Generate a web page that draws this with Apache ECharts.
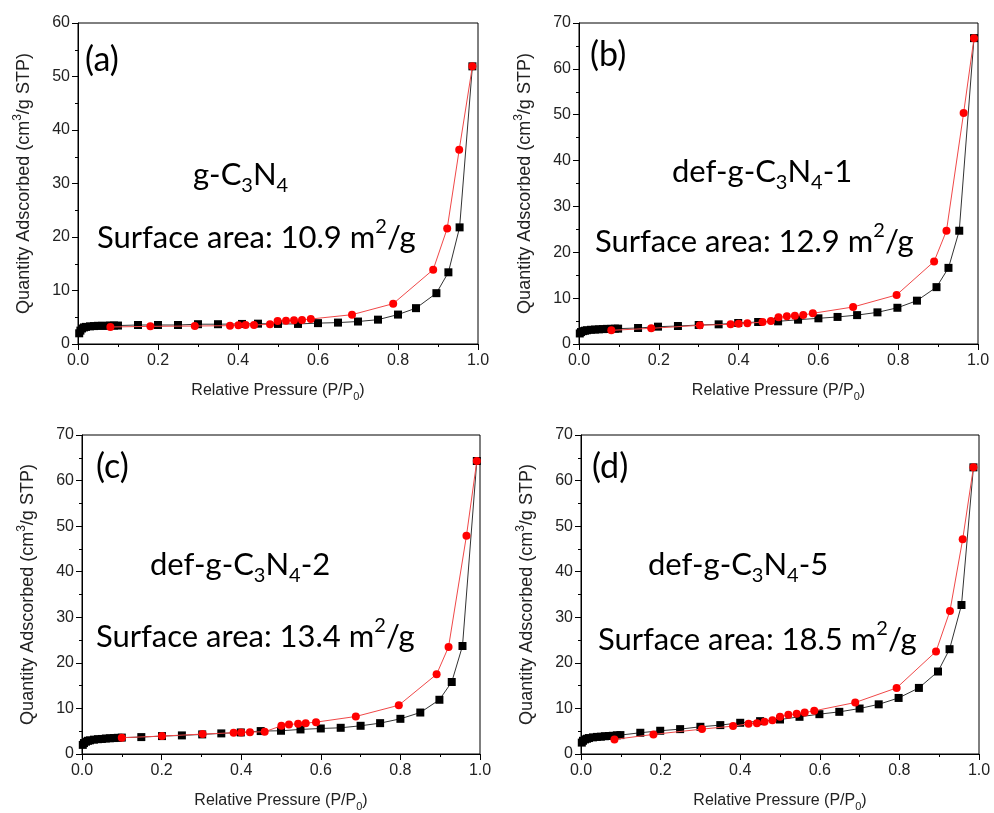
<!DOCTYPE html>
<html><head><meta charset="utf-8">
<script src="https://cdn.jsdelivr.net/npm/echarts@6/dist/echarts.min.js"></script>
<style>html,body{margin:0;padding:0;background:#fff}#c{width:994px;height:813px}</style>
</head><body><div id="c"></div>
<script>
// Panel (a) g-C3N4
const adsX_a = [0.003, 0.006, 0.01, 0.015, 0.02, 0.03, 0.04, 0.05, 0.06, 0.07, 0.08, 0.09, 0.1, 0.15, 0.2, 0.25, 0.3, 0.35, 0.41, 0.45, 0.5, 0.55, 0.6, 0.65, 0.7, 0.75, 0.8, 0.845, 0.896, 0.926, 0.954, 0.986];
const adsY_a = [2.0, 2.5, 2.9, 3.1, 3.2, 3.3, 3.35, 3.4, 3.4, 3.4, 3.45, 3.45, 3.45, 3.55, 3.55, 3.55, 3.7, 3.7, 3.75, 3.8, 3.75, 3.75, 3.9, 4.0, 4.2, 4.55, 5.5, 6.7, 9.5, 13.4, 21.8, 51.9];
const desX_a = [0.081, 0.181, 0.292, 0.38, 0.401, 0.419, 0.44, 0.48, 0.499, 0.52, 0.54, 0.56, 0.582, 0.685, 0.788, 0.888, 0.923, 0.953, 0.986];
const desY_a = [3.18, 3.3, 3.36, 3.43, 3.5, 3.55, 3.55, 3.68, 4.3, 4.36, 4.42, 4.5, 4.67, 5.48, 7.54, 13.9, 21.6, 36.3, 51.9];
// Panel (b) def-g-C3N4-1
const adsX_b = [0.002, 0.005, 0.01, 0.015, 0.02, 0.03, 0.04, 0.05, 0.06, 0.07, 0.08, 0.09, 0.098, 0.148, 0.198, 0.248, 0.3, 0.35, 0.399, 0.449, 0.499, 0.549, 0.6, 0.648, 0.697, 0.748, 0.798, 0.847, 0.896, 0.926, 0.953, 0.99];
const adsY_b = [2.3, 2.6, 2.8, 2.9, 3.0, 3.1, 3.15, 3.2, 3.25, 3.3, 3.3, 3.35, 3.35, 3.49, 3.78, 3.92, 4.14, 4.29, 4.58, 4.8, 4.94, 5.3, 5.6, 5.9, 6.3, 6.9, 7.9, 9.45, 12.4, 16.6, 24.7, 66.7];
const desX_b = [0.081, 0.181, 0.303, 0.38, 0.4, 0.422, 0.46, 0.481, 0.5, 0.521, 0.541, 0.562, 0.586, 0.687, 0.796, 0.89, 0.921, 0.964, 0.99];
const desY_b = [2.98, 3.42, 4.07, 4.29, 4.43, 4.5, 4.8, 5.0, 5.81, 6.03, 6.18, 6.32, 6.69, 8.07, 10.7, 18.0, 24.7, 50.4, 66.7];
// Panel (c) def-g-C3N4-2
const adsX_c = [0.002, 0.005, 0.01, 0.015, 0.02, 0.03, 0.04, 0.05, 0.06, 0.07, 0.08, 0.09, 0.1, 0.149, 0.201, 0.251, 0.302, 0.35, 0.399, 0.449, 0.5, 0.549, 0.6, 0.65, 0.7, 0.749, 0.8, 0.85, 0.898, 0.929, 0.956, 0.992];
const adsY_c = [2.0, 2.4, 2.7, 2.9, 3.0, 3.15, 3.25, 3.3, 3.4, 3.45, 3.5, 3.55, 3.6, 3.71, 3.93, 4.08, 4.3, 4.52, 4.73, 5.03, 5.1, 5.39, 5.6, 5.75, 6.19, 6.77, 7.72, 9.1, 11.9, 15.8, 23.7, 64.3];
const desX_c = [0.1, 0.201, 0.303, 0.381, 0.4, 0.422, 0.459, 0.501, 0.52, 0.543, 0.562, 0.588, 0.688, 0.796, 0.891, 0.921, 0.966, 0.992];
const desY_c = [3.57, 3.93, 4.37, 4.66, 4.73, 4.8, 4.88, 6.19, 6.48, 6.63, 6.77, 6.99, 8.23, 10.7, 17.5, 23.5, 47.9, 64.3];
// Panel (d) def-g-C3N4-5
const adsX_d = [0.002, 0.005, 0.01, 0.015, 0.02, 0.03, 0.04, 0.05, 0.06, 0.07, 0.08, 0.09, 0.099, 0.149, 0.199, 0.249, 0.3, 0.35, 0.4, 0.45, 0.5, 0.549, 0.599, 0.649, 0.7, 0.748, 0.798, 0.849, 0.897, 0.926, 0.956, 0.986];
const adsY_d = [2.5, 2.9, 3.2, 3.35, 3.5, 3.65, 3.75, 3.8, 3.9, 3.95, 4.0, 4.1, 4.15, 4.66, 5.1, 5.46, 5.97, 6.34, 6.85, 7.21, 7.57, 8.16, 8.74, 9.25, 9.98, 10.9, 12.3, 14.5, 18.1, 23.0, 32.7, 62.9];
const desX_d = [0.084, 0.182, 0.304, 0.382, 0.421, 0.442, 0.461, 0.481, 0.5, 0.521, 0.542, 0.562, 0.586, 0.689, 0.793, 0.892, 0.927, 0.959, 0.986];
const desY_d = [3.2, 4.3, 5.46, 6.12, 6.63, 6.77, 7.06, 7.43, 8.16, 8.6, 8.81, 9.1, 9.47, 11.3, 14.5, 22.5, 31.4, 47.1, 62.9];

const yMax = [60, 70, 70, 70];
const panelLetters = ['(a)', '(b)', '(c)', '(d)'];
const sampleNames = [['g-C','3','N','4',''], ['def-g-C','3','N','4','-1'], ['def-g-C','3','N','4','-2'], ['def-g-C','3','N','4','-5']];
const surfaceAreas = ['10.9', '12.9', '13.4', '18.5'];
const xName = 'Relative Pressure (P/P{sub|0})';
const yName = 'Quantity Adscorbed (cm{sup|3}/g STP)';

const ads = [[adsX_a, adsY_a], [adsX_b, adsY_b], [adsX_c, adsY_c], [adsX_d, adsY_d]];
const des = [[desX_a, desY_a], [desX_b, desY_b], [desX_c, desY_c], [desX_d, desY_d]];
const pair = (xs, ys) => xs.map((x, i) => [x, ys[i]]);

const grids = [
  {left: 78, top: 23, width: 400, height: 321},
  {left: 579, top: 23, width: 399, height: 321},
  {left: 82, top: 435, width: 398, height: 322},
  {left: 581, top: 435, width: 398, height: 322}
];
const textPos = [
  {lx: 85, ly: 60, nx: 193, ny: 175, sx: 97, sy: 238},
  {lx: 590, ly: 55, nx: 672, ny: 172, sx: 595, sy: 242},
  {lx: 96, ly: 467, nx: 150, ny: 565, sx: 96, sy: 637},
  {lx: 592, ly: 467, nx: 648, ny: 565, sx: 598, sy: 640}
];

const axisFont = 'Liberation Sans';
const annFont = 'Lato';
const option = {
  animation: false,
  backgroundColor: '#fff',
  grid: grids.map(g => Object.assign({show: true, borderColor: '#000', borderWidth: 1, backgroundColor: 'transparent'}, g)),
  xAxis: grids.map((g, i) => ({
    gridIndex: i, type: 'value', min: 0, max: 1, interval: 0.2,
    name: xName, nameLocation: 'middle', nameGap: 36,
    nameTextStyle: {fontFamily: axisFont, fontSize: 16, color: '#222', lineHeight: 22,
      rich: {sub: {fontFamily: axisFont, fontSize: 11, lineHeight: 11, verticalAlign: 'bottom', color: '#222'}}},
    axisLine: {onZero: false, lineStyle: {color: '#000', width: 1}},
    axisTick: {show: true, length: 6, lineStyle: {color: '#000'}},
    minorTick: {show: true, splitNumber: 2, length: 3, lineStyle: {color: '#000'}},
    splitLine: {show: false},
    axisLabel: {fontFamily: axisFont, fontSize: 16, color: '#222', margin: 9, formatter: v => v.toFixed(1)}
  })),
  yAxis: grids.map((g, i) => ({
    gridIndex: i, type: 'value', min: 0, max: yMax[i], interval: 10,
    name: yName, nameLocation: 'middle', nameGap: 42,
    nameTextStyle: {fontFamily: axisFont, fontSize: 18, color: '#222', lineHeight: 24,
      rich: {sup: {fontFamily: axisFont, fontSize: 12, lineHeight: 12, verticalAlign: 'top', color: '#222'}}},
    axisLine: {onZero: false, lineStyle: {color: '#000', width: 1}},
    axisTick: {show: true, length: 6, lineStyle: {color: '#000'}},
    minorTick: {show: true, splitNumber: 2, length: 3, lineStyle: {color: '#000'}},
    splitLine: {show: false},
    axisLabel: {fontFamily: axisFont, fontSize: 16, color: '#222', margin: 8}
  })),
  series: [],
  graphic: []
};
for (let i = 0; i < 4; i++) {
  option.series.push({
    type: 'line', xAxisIndex: i, yAxisIndex: i, data: pair(ads[i][0], ads[i][1]),
    symbol: 'rect', symbolSize: 8, showAllSymbol: true,
    lineStyle: {color: '#333', width: 1}, itemStyle: {color: '#000'}, z: 2
  });
  option.series.push({
    type: 'line', xAxisIndex: i, yAxisIndex: i, data: pair(des[i][0], des[i][1]),
    symbol: 'circle', symbolSize: 8, showAllSymbol: true,
    lineStyle: {color: '#f04848', width: 1}, itemStyle: {color: '#ff0000'}, z: 3
  });
  const p = textPos[i];
  const n = sampleNames[i];
  option.graphic.push({
    type: 'text', z: 10,
    style: {x: p.lx, y: p.ly, text: panelLetters[i], font: '34px ' + annFont, fill: '#000', verticalAlign: 'middle'}
  });
  option.graphic.push({
    type: 'text', z: 10,
    style: {
      x: p.nx, y: p.ny, verticalAlign: 'middle',
      text: '{m|' + n[0] + '}{s|' + n[1] + '}{m|' + n[2] + '}{s|' + n[3] + '}' + (n[4] ? '{m|' + n[4] + '}' : ''),
      rich: {
        m: {fontSize: 31, fontFamily: annFont, lineHeight: 42, fill: '#000'},
        s: {fontSize: 20, fontFamily: annFont, lineHeight: 20, verticalAlign: 'bottom', fill: '#000'}
      }
    }
  });
  option.graphic.push({
    type: 'text', z: 10,
    style: {
      x: p.sx, y: p.sy, verticalAlign: 'middle',
      text: '{m|Surface area: ' + surfaceAreas[i] + ' m}{u|2}{m|/g}',
      rich: {
        m: {fontSize: 31, fontFamily: annFont, lineHeight: 42, fill: '#000'},
        u: {fontSize: 20, fontFamily: annFont, lineHeight: 20, verticalAlign: 'top', fill: '#000'}
      }
    }
  });
}
const chart = echarts.init(document.getElementById('c'));
chart.setOption(option);
</script>
</body></html>
